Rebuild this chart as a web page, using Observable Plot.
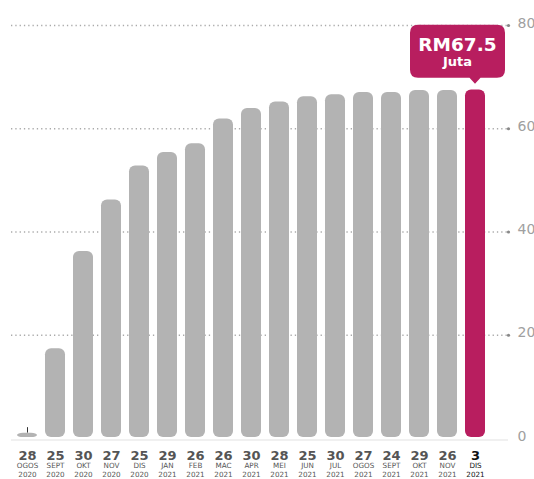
<!DOCTYPE html>
<html><head><meta charset="utf-8">
<script src="https://cdn.jsdelivr.net/npm/d3@7"></script>
<script src="https://cdn.jsdelivr.net/npm/@observablehq/plot@0.6"></script>
<style>body{margin:0;background:#fff} #chart{width:534px;height:479px;overflow:hidden}</style>
</head><body><div id="chart"></div>
<script>
const days = ["28","25","30","27","25","29","26","26","30","28","25","30","27","24","29","26","3"];
const months = ["OGOS","SEPT","OKT","NOV","DIS","JAN","FEB","MAC","APR","MEI","JUN","JUL","OGOS","SEPT","OKT","NOV","DIS"];
const years = ["2020","2020","2020","2020","2020","2021","2021","2021","2021","2021","2021","2021","2021","2021","2021","2021","2021"];
const values = [1.0,17.4,36.2,46.2,52.8,55.4,57.1,61.9,63.9,65.2,66.2,66.6,67.0,67.0,67.4,67.4,67.5];
const yTicks = [0,20,40,60,80];
const calloutLines = ["RM67.5","Juta"];

const GRAY = "#b3b3b3", MAGENTA = "#b81e5f";
const n = values.length;
const data = values.map((v,i)=>({key:i, value:v, day:days[i], month:months[i], year:years[i], last:i===n-1}));

const plot = Plot.plot({
  width: 534, height: 479,
  marginTop: 25, marginBottom: 41, marginLeft: 11, marginRight: 26,
  style: {fontFamily: "'DejaVu Sans', sans-serif", background: "#fff", overflow: "visible"},
  x: {type: "band", domain: d3.range(n), range: [6.8, 495.2], padding: 0.29, axis: null},
  y: {domain: [0, 80], axis: null},
  color: {type: "identity"},
  marks: [
    Plot.ruleY(yTicks.filter(t=>t>0), {stroke:"#aaa", strokeWidth:1.3, strokeDasharray:"1.3,3"}),
    Plot.dot(yTicks.filter(t=>t>0), {y: d=>d, frameAnchor:"right", r:1.6, fill:"#888", stroke:null}),
    Plot.ruleY([0], {stroke:"#e2e2e2", strokeWidth:1.2, dy:1.5}),
    Plot.text(yTicks, {y: d=>d, text: d=>String(d), frameAnchor:"right", dx:9, dy:2, textAnchor:"start", lineAnchor:"bottom", fill:"#a0a0a0", fontSize:14}),
    Plot.barY(data, {x:"key", y:"value", fill: d=> d.last ? MAGENTA : GRAY, rx:6, insetBottom:1}),
    Plot.ruleX([data[0]], {x:"key", y1: d=>d.value+0.05, y2: d=>d.value+1.1, stroke:"#333", strokeWidth:1}),
    Plot.text(data, {x:"key", y: ()=>0, text:"day", dy:21, lineAnchor:"bottom", fontSize:13, fontWeight:"bold", fill: d=> d.last ? "#111" : "#555"}),
    Plot.text(data, {x:"key", y: ()=>0, text:"month", dy:29.8, lineAnchor:"bottom", fontSize:7.2, fontWeight: d=> d.last ? "bold" : "normal", fill: d=> d.last ? "#111" : "#555"}),
    Plot.text(data, {x:"key", y: ()=>0, text:"year", dy:38.8, lineAnchor:"bottom", fontSize:7.2, fontWeight: d=> d.last ? "bold" : "normal", fill: d=> d.last ? "#111" : "#555"})
  ]
});
document.getElementById("chart").appendChild(plot);

// Callout anchored on the last bar through the plot's own scales
const xs = plot.scale("x"), ys = plot.scale("y");
const last = data[n-1];
const tipX = xs.apply(last.key) + xs.bandwidth/2;
const tipY = ys.apply(last.value) - 5.7;
const bw = 95, bh = 53, r = 8;
const bx = tipX + 30 - bw, by = tipY - 6 - bh;
const svg = d3.select(plot);
const g = svg.append("g");
g.append("path")
  .attr("fill", MAGENTA)
  .attr("d", `M${bx+r},${by} H${bx+bw-r} Q${bx+bw},${by} ${bx+bw},${by+r} V${by+bh-r} Q${bx+bw},${by+bh} ${bx+bw-r},${by+bh} H${tipX+5.5} L${tipX},${tipY} L${tipX-5.5},${by+bh} H${bx+r} Q${bx},${by+bh} ${bx},${by+bh-r} V${by+r} Q${bx},${by} ${bx+r},${by} Z`);
g.append("text").attr("x", bx+bw/2).attr("y", by+26).attr("text-anchor","middle")
  .attr("fill","#fff").attr("font-weight","bold").attr("font-size",18.5).text(calloutLines[0]);
g.append("text").attr("x", bx+bw/2).attr("y", by+41).attr("text-anchor","middle")
  .attr("fill","#fff").attr("font-weight","bold").attr("font-size",13).text(calloutLines[1]);
</script></body></html>
